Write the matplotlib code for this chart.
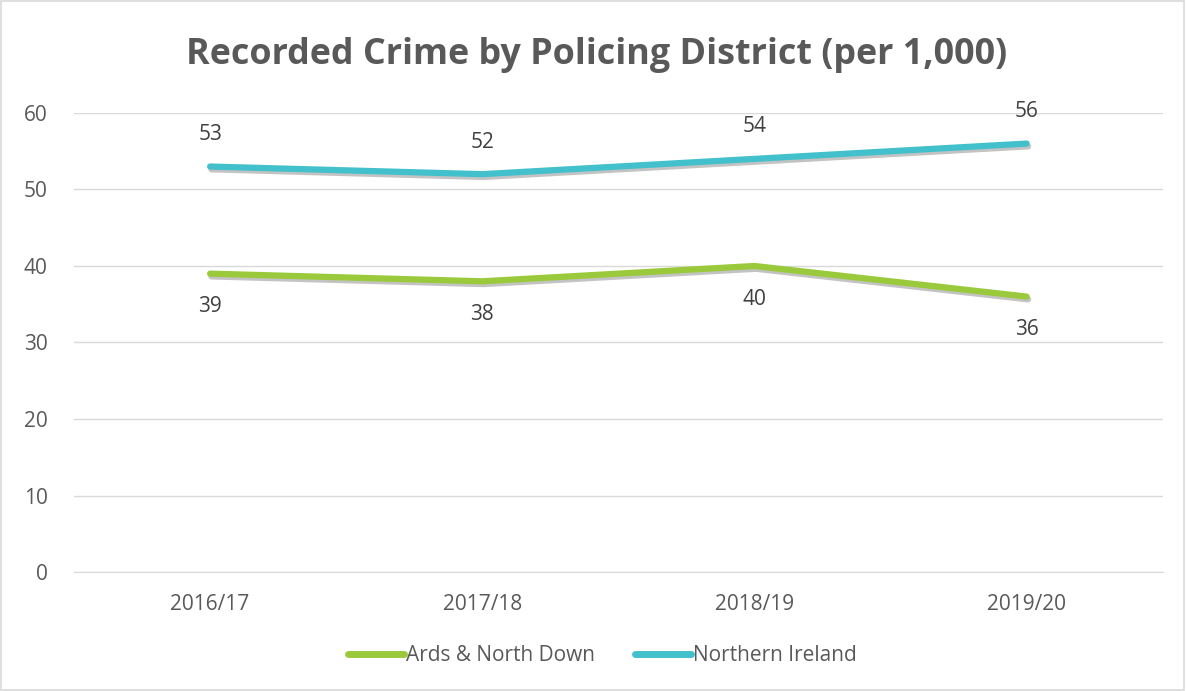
import matplotlib
matplotlib.use("Agg")
from matplotlib import pyplot as plt
import matplotlib.patheffects as pe
from matplotlib.patches import Rectangle
import numpy as np

plt.rcParams['font.family'] = ['Open Sans', 'DejaVu Sans']

years = ["2016/17", "2017/18", "2018/19", "2019/20"]
ards = [39, 38, 40, 36]
ni = [53, 52, 54, 56]
yticks = [0, 10, 20, 30, 40, 50, 60]

green = "#9ACA3C"
cyan = "#42C0CC"
txt = "#595959"

fig = plt.figure(figsize=(11.86, 6.91), dpi=100)
ax = fig.add_axes([0.0624, 0.1722, 0.918, 0.6643])

x = np.arange(len(years))
shadow = [pe.SimpleLineShadow(offset=(1, -2), shadow_color="#555555", alpha=0.35), pe.Normal()]
ax.plot(x, ards, color=green, lw=4.5, solid_capstyle="round", label="Ards & North Down",
        path_effects=shadow, zorder=3)
ax.plot(x, ni, color=cyan, lw=4.5, solid_capstyle="round", label="Northern Ireland",
        path_effects=shadow, zorder=3)

for i in range(len(years)):
    ax.annotate(str(ni[i]), (x[i], ni[i]), xytext=(0, 23), textcoords="offset points",
                ha="center", va="center", fontsize=15, color="#404040")
    ax.annotate(str(ards[i]), (x[i], ards[i]), xytext=(0, -24), textcoords="offset points",
                ha="center", va="center", fontsize=15, color="#404040")

ax.set_xlim(-0.5, 3.5)
ax.set_ylim(0, 60)
ax.set_yticks(yticks)
ax.set_xticks(x)
ax.set_xticklabels(years)
ax.tick_params(axis="both", length=0, labelsize=15, labelcolor=txt)
ax.tick_params(axis="x", pad=16)
ax.tick_params(axis="y", pad=19)
ax.grid(axis="y", color="#D9D9D9", lw=1)
ax.set_axisbelow(True)
for s in ["top", "right", "left"]:
    ax.spines[s].set_visible(False)
ax.spines["bottom"].set_color("#D9D9D9")

fig.text(0.503, 0.92, "Recorded Crime by Policing District (per 1,000)", ha="center", va="center",
         fontsize=25.8, fontweight="bold", color=txt)

leg = fig.legend(loc="center", bbox_to_anchor=(0.508, 0.051), ncol=2, frameon=False,
                 fontsize=15, handlelength=2.7, handletextpad=0.1, columnspacing=1.9)
for t in leg.get_texts():
    t.set_color(txt)
for h in leg.get_lines():
    h.set_path_effects([])
    h.set_linewidth(5)

fig.patches.append(Rectangle((0.001, 0.001), 0.997, 0.997, transform=fig.transFigure,
                             fill=False, edgecolor="#D9D9D9", lw=1.2))

plt.savefig("out.png", dpi=100)
